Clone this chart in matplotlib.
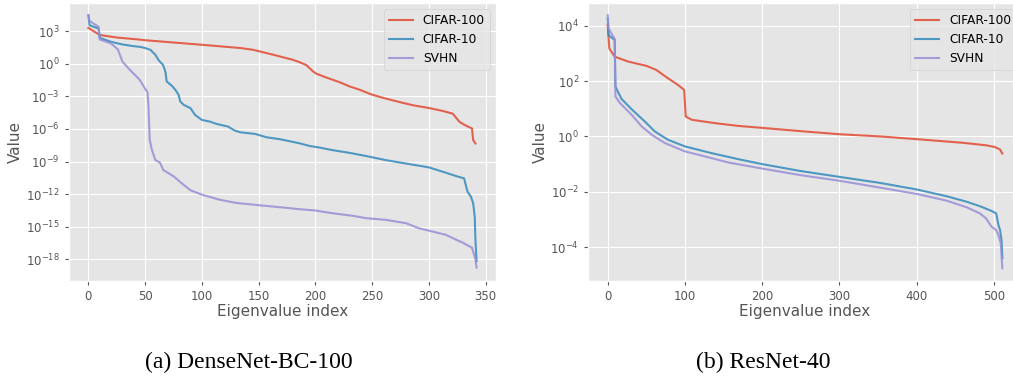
import numpy as np
import matplotlib
matplotlib.use("Agg")
import matplotlib.pyplot as plt

plt.style.use("ggplot")

# DenseNet-BC-100 spectra (index, log10 of eigenvalue)
dn_c100_idx = [0, 10, 25, 46, 50, 100, 134, 145, 163, 180, 186, 192, 198, 201, 210, 221, 230,
               239, 249, 259, 274, 286, 300, 312, 321, 327, 332, 338, 339, 341]
dn_c100_log = [3.3, 2.65, 2.42, 2.22, 2.17, 1.75, 1.45, 1.29, 0.83, 0.37, 0.15, -0.12, -0.71,
               -0.92, -1.28, -1.68, -2.08, -2.39, -2.81, -3.12, -3.52, -3.82, -4.07, -4.34,
               -4.59, -5.35, -5.66, -5.96, -7.03, -7.34]

dn_c10_idx = [0, 1, 9, 10, 20, 30, 40, 46, 50, 54.6, 59, 62, 65.7, 67.8, 69, 73.6, 76.6, 79.5,
              81, 84, 90, 94, 100, 107, 113, 123, 129, 134, 147, 157, 169, 186, 195, 204, 215,
              230, 245, 262, 283, 300, 315, 324, 331, 334, 337, 339, 340.4, 341, 342]
dn_c10_log = [4.47, 3.55, 3.24, 2.39, 2.02, 1.78, 1.62, 1.55, 1.45, 1.29, 0.83, 0.31, -0.09,
              -0.71, -1.63, -2.03, -2.4, -2.86, -3.48, -3.78, -4.09, -4.71, -5.17, -5.32, -5.54,
              -5.78, -6.15, -6.31, -6.46, -6.77, -6.95, -7.32, -7.57, -7.72, -7.95, -8.2, -8.5,
              -8.87, -9.24, -9.54, -10.03, -10.34, -10.55, -11.77, -12.23, -12.84, -14.07,
              -16.2, -18.16]

dn_svhn_idx = [0, 1, 9, 10, 20, 26, 30, 36, 45, 50, 52, 53, 54, 56, 59, 63, 66, 75, 83, 90,
               100, 115, 130, 150, 175, 186, 200, 215, 233, 245, 262, 280, 291, 303, 315, 324,
               330, 338, 341, 342]
dn_svhn_log = [4.47, 3.95, 3.4, 2.24, 1.87, 1.32, 0.2, -0.5, -1.45, -2.3, -2.6, -4.0, -7.0,
               -7.94, -8.86, -9.1, -9.78, -10.36, -11.07, -11.65, -12.05, -12.5, -12.81,
               -13.02, -13.27, -13.39, -13.51, -13.76, -14.0, -14.22, -14.37, -14.68, -15.14,
               -15.44, -15.75, -16.2, -16.48, -16.94, -18.0, -18.77]

# ResNet-40 spectra
rn_c100_idx = [0, 2, 9, 27, 50, 63, 78, 91, 99, 101, 109, 139, 169, 200, 250, 300, 353, 401,
               460, 490, 501, 508, 511]
rn_c100_log = [4.02, 3.18, 2.88, 2.70, 2.55, 2.40, 2.10, 1.86, 1.68, 0.72, 0.6, 0.48, 0.38,
               0.31, 0.19, 0.08, 0.0, -0.1, -0.23, -0.32, -0.38, -0.47, -0.62]

rn_c10_idx = [0, 1, 9, 10, 12, 18, 31, 48, 61, 78, 100, 134, 169, 200, 250, 300, 353, 401, 439,
              465, 482, 497, 503, 506, 508, 510, 511]
rn_c10_log = [4.26, 3.66, 3.48, 1.8, 1.68, 1.35, 0.98, 0.54, 0.18, -0.12, -0.36, -0.6, -0.82,
              -1.0, -1.25, -1.46, -1.68, -1.92, -2.16, -2.36, -2.52, -2.69, -2.78, -3.2, -3.38,
              -3.74, -4.4]

rn_svhn_idx = [0, 1, 9, 10, 16, 31, 44, 57, 74, 100, 134, 156, 200, 250, 300, 353, 401, 439,
               465, 482, 490, 497, 503, 506, 509, 511]
rn_svhn_log = [4.38, 3.9, 3.52, 1.44, 1.2, 0.78, 0.36, 0.06, -0.24, -0.54, -0.78, -0.94, -1.16,
               -1.4, -1.6, -1.85, -2.08, -2.32, -2.56, -2.78, -2.96, -3.26, -3.38, -3.56, -3.86,
               -4.76]

labels = ["CIFAR-100", "CIFAR-10", "SVHN"]
captions = ["(a) DenseNet-BC-100", "(b) ResNet-40"]
colors = ["#E24A33", "#348ABD", "#988ED5"]

fig = plt.figure(figsize=(10.13, 3.76), dpi=100)
ax1 = fig.add_axes([0.0681, 0.2527, 0.4215, 0.7394])
ax2 = fig.add_axes([0.5805, 0.2527, 0.4284, 0.7394])

panels = [
    (ax1, [(dn_c100_idx, dn_c100_log), (dn_c10_idx, dn_c10_log), (dn_svhn_idx, dn_svhn_log)]),
    (ax2, [(rn_c100_idx, rn_c100_log), (rn_c10_idx, rn_c10_log), (rn_svhn_idx, rn_svhn_log)]),
]

for ax, series in panels:
    for (idx, lg), lab, c in zip(series, labels, colors):
        ax.plot(idx, 10.0 ** np.array(lg), color=c, lw=1.5, alpha=0.85, label=lab)
    ax.set_yscale("log")
    ax.set_xlabel("Eigenvalue index", fontsize=11, color="#555555", labelpad=1)
    ax.set_ylabel("Value", fontsize=11, color="#555555", labelpad=2)
    ax.tick_params(labelsize=8.5, colors="#555555", length=3)
    ax.legend(loc="upper right", fontsize=8.8, framealpha=0.8)

ax1.set_xlim(-17.1, 359.1)
ax1.set_ylim(10.0 ** -20.0, 10.0 ** 5.6)
ax1.set_yticks(10.0 ** np.arange(-18, 4, 3))
ax1.set_xticks(np.arange(0, 351, 50))

ax2.set_xlim(-25.5, 536.5)
ax2.set_ylim(10.0 ** -5.22, 10.0 ** 4.82)
ax2.set_yticks(10.0 ** np.arange(-4, 5, 2))
ax2.set_xticks(np.arange(0, 501, 100))
for ax in (ax1, ax2):
    ax.minorticks_off()

fig.text(249 / 1013, 1 - 362 / 376, captions[0], ha="center", va="center",
         fontsize=17, family="Liberation Serif", color="black")
fig.text(763 / 1013, 1 - 362 / 376, captions[1], ha="center", va="center",
         fontsize=17, family="Liberation Serif", color="black")

fig.savefig("out.png", dpi=100, facecolor="white")
